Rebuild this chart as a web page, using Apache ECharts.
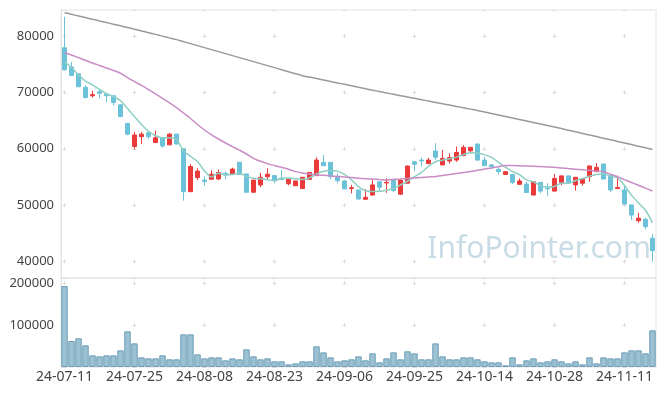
<!DOCTYPE html>
<html>
<head>
<meta charset="utf-8">
<script src="https://cdn.jsdelivr.net/npm/echarts@6/dist/echarts.min.js"></script>
<style>
html,body{margin:0;padding:0;background:#fff;}
#c{width:665px;height:396px;}
</style>
</head>
<body>
<div id="c"></div>
<script>
const dates = ['24-07-11','24-07-12','24-07-15','24-07-16','24-07-17','24-07-18','24-07-19','24-07-22','24-07-23','24-07-24',
'24-07-25','24-07-26','24-07-29','24-07-30','24-07-31','24-08-01','24-08-02','24-08-05','24-08-06','24-08-07',
'24-08-08','24-08-09','24-08-12','24-08-13','24-08-14','24-08-16','24-08-19','24-08-20','24-08-21','24-08-22',
'24-08-23','24-08-26','24-08-27','24-08-28','24-08-29','24-08-30','24-09-02','24-09-03','24-09-04','24-09-05',
'24-09-06','24-09-09','24-09-10','24-09-11','24-09-12','24-09-13','24-09-19','24-09-20','24-09-23','24-09-24',
'24-09-25','24-09-26','24-09-27','24-09-30','24-10-02','24-10-04','24-10-07','24-10-08','24-10-10','24-10-11',
'24-10-14','24-10-15','24-10-16','24-10-17','24-10-18','24-10-21','24-10-22','24-10-23','24-10-24','24-10-25',
'24-10-28','24-10-29','24-10-30','24-10-31','24-11-01','24-11-04','24-11-05','24-11-06','24-11-07','24-11-08',
'24-11-11','24-11-12','24-11-13','24-11-14','24-11-15'];

const opens  = [77900,74500,73300,70900,69400,70100,69700,69400,67800,64500,60400,62150,62850,61100,61950,60700,62600,60000,52400,54900,
54450,54600,54650,55650,55500,57600,55550,52300,53600,55050,55250,54800,53800,53450,52950,54600,55250,57600,57600,55050,
54300,52950,52700,51050,51800,54150,53950,54600,51950,53900,57700,58000,57400,59600,57150,57850,58000,58800,59650,60850,
58000,57150,56350,55450,55450,53700,53750,51800,54050,53050,52500,54050,55200,53600,53900,55050,55950,57300,55250,52950,
52700,50050,47250,47500,44150];
const closes = [74000,73000,71000,69100,69600,69850,69400,68200,65700,62600,62450,62600,62150,61950,60500,62600,60850,52400,56850,56050,
54200,55500,55800,55350,56400,55450,52300,54450,54950,55500,54450,54550,54600,54300,54950,55800,58000,57000,55050,54350,
52900,53100,51100,51400,53600,53200,54050,52600,54450,56950,57250,57850,58000,58500,58300,58450,59350,60250,60250,58000,
57000,56850,55950,55950,54050,54300,52250,54150,52500,52900,54750,55200,54050,54950,54650,56950,56700,54650,52700,53150,
50200,48250,47700,46200,41950];
const lows   = [73900,72900,70900,68900,69100,68950,68250,67650,65600,62400,59900,60850,61700,61050,60200,60650,60800,50800,52350,54450,
53450,54550,54450,54600,55450,55400,52250,52250,53200,54650,53900,54500,53550,53400,52900,54550,55200,56950,54600,53900,
52850,52100,51000,51000,51750,52400,52200,52300,51900,53850,56050,56850,57250,58000,57100,57400,57700,58700,59200,57950,
56950,56350,55450,55400,53750,53650,52200,51750,52100,51650,52450,53550,54000,52600,53450,54150,55900,54600,52300,52900,
50150,47400,46900,45750,40000];
const highs  = [83400,75400,73300,71300,70300,70400,69750,69400,67900,64600,63000,63000,63000,63200,62000,62800,62650,60100,57300,56550,
55200,56200,56350,55950,56650,57650,55600,54500,55750,56550,55300,56250,54650,54350,55000,55850,58500,58900,57650,55650,
54450,53600,52750,52850,54450,54200,54750,54650,54500,57000,57750,58450,58400,61000,59800,59200,60400,60650,60300,60900,
58600,57300,56700,56000,55500,54750,54150,54200,54100,53900,55550,55250,55250,55000,54700,57000,57450,57350,55300,55250,
53600,50100,48650,47800,44900];

const volumes = [192900,61900,68300,51600,27800,25400,27800,27800,39700,84900,56300,23000,20600,20600,27800,18300,18300,77800,77800,30200,
20600,23000,23000,15900,20600,18300,42100,25400,18300,20600,13500,13500,6300,8700,13500,13500,49200,34900,23000,13500,
15900,18300,25400,15900,32500,11100,20600,34900,18300,37300,32500,18300,18300,56300,25400,18300,18300,23000,23000,18300,
13500,11100,11100,4000,23000,6300,15900,20600,11100,13500,18300,13500,8700,13500,6300,23000,8700,23000,20600,20600,
34900,39700,39700,32500,87400];

const ma5 = [75400,74400,73100,72000,71340,70510,69790,69230,68550,67150,65670,64310,63100,62350,61930,61960,61610,59660,58640,57750,
56070,55000,55680,55380,55450,55700,55060,54790,54710,54530,54330,54780,54810,54680,54570,54840,55530,56010,56160,56040,
55460,54480,53300,52570,52420,52480,52670,52970,53580,54250,55060,55820,56900,57710,57980,58220,58520,58970,59320,59260,
58970,58470,57610,56750,55960,55420,54500,54140,53450,53220,53310,53900,53880,54370,54720,55160,55460,55580,55130,54830,
53480,51790,50400,49100,46860];
const ma20 = [77075,76614,76153,75692,75213,74770,74326,73883,73387,72624,71915,71224,70497,69717,68919,68121,67288,66348,65373,64309,
63334,62482,61738,61028,60390,59752,59078,58316,57784,57376,57040,56720,56384,55958,55710,55533,55390,55300,55200,55110,
55020,54900,54770,54700,54630,54540,54470,54560,54650,54740,54820,54910,55000,55090,55270,55440,55620,55800,55980,56190,
56400,56610,56830,57040,57020,56990,56950,56900,56850,56790,56720,56600,56490,56390,56280,56180,56070,55940,55500,55060,
54540,54030,53530,53020,52520];
const ma120 = [84131,83838,83546,83253,82961,82668,82376,82083,81791,81498,81206,80896,80586,80276,79966,79656,79346,78991,78637,78282,
77928,77573,77218,76864,76509,76155,75800,75445,75091,74736,74382,74027,73672,73318,72963,72706,72449,72192,71935,71678,
71421,71164,70907,70650,70393,70136,69897,69658,69419,69180,68941,68702,68463,68224,67985,67746,67507,67268,67029,66790,
66524,66258,65992,65726,65460,65194,64928,64662,64396,64130,63864,63580,63297,63013,62729,62446,62162,61878,61594,61311,
61027,60743,60460,60176,59892];

const priceTicks = [40000,50000,60000,70000,80000];
const volumeTicks = [100000,200000];

const ohlc = dates.map((d, i) => [opens[i], closes[i], lows[i], highs[i]]);

const UP = '#ea3a3a', DOWN = '#6bc2d9';
const FONT = 'Noto Sans';
const gridLine = '#e4e4e4';

const chart = echarts.init(document.getElementById('c'), null, {renderer: 'canvas'});
chart.setOption({
  animation: false,
  backgroundColor: '#fff',
  textStyle: {fontFamily: FONT},
  graphic: [{
    type: 'text', right: 14, top: 234, z: 0, silent: true,
    style: {text: 'InfoPointer.com', fontSize: 30, fontFamily: FONT, fill: '#c9dce6'}
  }],
  grid: [
    {left: 61, right: 9, top: 10, height: 268, show: true, borderColor: gridLine, borderWidth: 1, outerBoundsMode: 'none'},
    {left: 61, right: 9, top: 278, height: 89, show: true, borderColor: gridLine, borderWidth: 1, outerBoundsMode: 'none'}
  ],
  xAxis: [
    {type: 'category', gridIndex: 0, data: dates, boundaryGap: true,
     axisLine: {show: false}, axisTick: {show: false}, axisLabel: {show: false, interval: 9},
     splitLine: {show: true, interval: 9, alignWithLabel: true,
       lineStyle: {color: '#dcdcdc', width: 1, type: [4, 52.4], dashOffset: 32.4}}},
    {type: 'category', gridIndex: 1, data: dates, boundaryGap: true,
     axisLine: {show: false}, axisTick: {show: false},
     axisLabel: {interval: 9, color: '#444', fontSize: 14, fontFamily: FONT, margin: 3},
     splitLine: {show: true, interval: 9, alignWithLabel: true,
       lineStyle: {color: '#dcdcdc', width: 1, type: [4, 38], dashOffset: 39}}}
  ],
  yAxis: [
    {type: 'value', gridIndex: 0, min: 37100, max: 84600, scale: true,
     axisLine: {show: true, lineStyle: {color: gridLine}}, axisTick: {show: false},
     axisLabel: {color: '#444', fontSize: 13, fontFamily: FONT, margin: 7,
       formatter: v => priceTicks.includes(v) ? String(v) : ''},
     splitLine: {show: true, lineStyle: {color: '#dcdcdc', width: 1, type: [4, 66], dashOffset: 68.5}}},
    {type: 'value', gridIndex: 1, min: 0, max: 212000, interval: 100000,
     axisLine: {show: true, lineStyle: {color: gridLine}}, axisTick: {show: false},
     axisLabel: {color: '#444', fontSize: 13, fontFamily: FONT, margin: 7,
       formatter: v => volumeTicks.includes(v) ? String(v) : ''},
     splitLine: {show: true, lineStyle: {color: '#dcdcdc', width: 1, type: [4, 66], dashOffset: 68.5}}}
  ],
  series: [
    {type: 'candlestick', xAxisIndex: 0, yAxisIndex: 0, data: ohlc, barWidth: '70%',
     itemStyle: {color: UP, color0: DOWN, borderColor: UP, borderColor0: DOWN, borderWidth: 1}},
    {type: 'line', name: 'MA5', xAxisIndex: 0, yAxisIndex: 0, data: ma5, showSymbol: false, smooth: 0.3,
     lineStyle: {color: '#8dcfc3', width: 1.5}, z: 3},
    {type: 'line', name: 'MA20', xAxisIndex: 0, yAxisIndex: 0, data: ma20, showSymbol: false, smooth: 0.3,
     lineStyle: {color: '#c98cc6', width: 1.5}, z: 3},
    {type: 'line', name: 'MA120', xAxisIndex: 0, yAxisIndex: 0, data: ma120, showSymbol: false, smooth: 0.3,
     lineStyle: {color: '#9a9a9a', width: 1.5}, z: 3},
    {type: 'bar', xAxisIndex: 1, yAxisIndex: 1, data: volumes, barWidth: '92%',
     itemStyle: {color: '#9bc1d3', borderColor: '#6e9eb7', borderWidth: 1}}
  ]
});
</script>
</body>
</html>
